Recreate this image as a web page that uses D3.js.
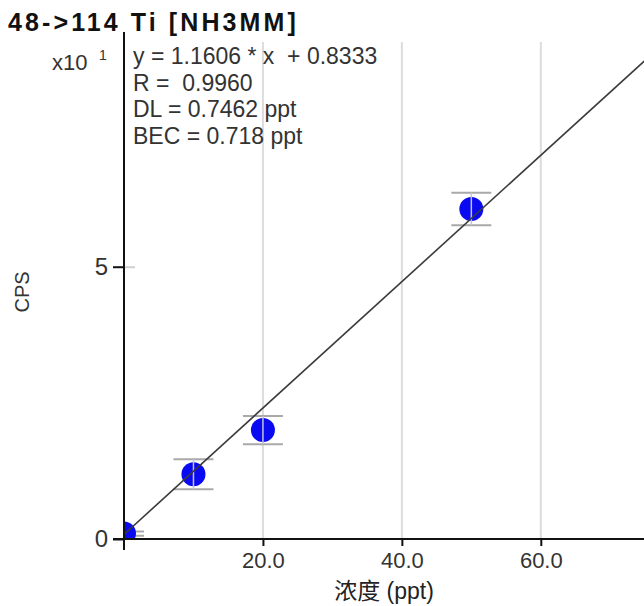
<!DOCTYPE html>
<html>
<head>
<meta charset="utf-8">
<script src="https://cdn.jsdelivr.net/npm/d3@7"></script>
<style>
  body { margin: 0; background: #fff; }
  text { font-family: "Liberation Sans", Arial, "Noto Sans CJK SC", sans-serif; white-space: pre; }
</style>
</head>
<body>
<div id="chart"></div>
<script>
// calibration data (CPS, axis shows x10^1)
const conc = [0, 10, 20, 50];
const cps = [1.0, 11.9, 20.0, 60.6];
const cpsErr = [0.4, 2.75, 2.6, 3.0];
const slope = 1.1606;
const intercept = 0.8333;

const xTicks = [20, 40, 60];
const xTickLabels = ['20.0', '40.0', '60.0'];
const yTicks = [0, 50];
const yTickLabels = ['0', '5'];

const title = '48->114 Ti [NH3MM]';
const infoLines = ['y = 1.1606 * x  + 0.8333', 'R =  0.9960', 'DL = 0.7462 ppt', 'BEC = 0.718 ppt'];

const W = 644, H = 606;
const plotL = 124, plotR = 644, plotT = 38, plotB = 539;

const svg = d3.select('#chart').append('svg')
    .attr('width', W)
    .attr('height', H);

const x = d3.scaleLinear().domain([0, 75]).range([plotL, 645]);
const y = d3.scaleLinear().domain([0, 92]).range([plotB, plotT]);

svg.append('defs').append('clipPath')
    .attr('id', 'plot-clip')
    .append('rect')
    .attr('x', plotL).attr('y', plotT)
    .attr('width', plotR - plotL).attr('height', plotB - plotT);

// vertical grid lines
svg.append('g')
    .selectAll('line')
    .data(xTicks)
    .enter().append('line')
    .attr('x1', d => x(d)).attr('x2', d => x(d))
    .attr('y1', 42).attr('y2', plotB)
    .attr('stroke', '#dcdcdc')
    .attr('stroke-width', 2);

const plot = svg.append('g').attr('clip-path', 'url(#plot-clip)');

// error bars caps
const bars = plot.selectAll('.err')
    .data(conc.map((c, i) => ({ c, v: cps[i], e: cpsErr[i] })))
    .enter().append('g')
    .attr('class', 'err');

bars.append('line')
    .attr('x1', d => x(d.c) - 20).attr('x2', d => x(d.c) + 20)
    .attr('y1', d => y(d.v + d.e)).attr('y2', d => y(d.v + d.e))
    .attr('stroke', '#a9a9a9').attr('stroke-width', 2);
bars.append('line')
    .attr('x1', d => x(d.c) - 20).attr('x2', d => x(d.c) + 20)
    .attr('y1', d => y(d.v - d.e)).attr('y2', d => y(d.v - d.e))
    .attr('stroke', '#a9a9a9').attr('stroke-width', 2);

// markers
bars.append('circle')
    .attr('cx', d => x(d.c))
    .attr('cy', d => y(d.v))
    .attr('r', 12)
    .attr('fill', '#0a0af2');

bars.append('line')
    .attr('x1', d => x(d.c)).attr('x2', d => x(d.c))
    .attr('y1', d => y(d.v + d.e)).attr('y2', d => y(d.v - d.e))
    .attr('stroke', '#c4c4d4').attr('stroke-width', 1.5);

// fit line
plot.append('line')
    .attr('x1', x(0)).attr('y1', y(intercept))
    .attr('x2', x(75)).attr('y2', y(slope * 75 + intercept))
    .attr('stroke', '#3a3a3a')
    .attr('stroke-width', 1.6);

// x axis
const xAxis = svg.append('g')
    .attr('transform', `translate(0,${plotB})`)
    .call(d3.axisBottom(x).tickValues(xTicks).tickSize(7).tickPadding(6)
        .tickFormat((d, i) => xTickLabels[i]));
xAxis.select('.domain').remove();
xAxis.selectAll('.tick line').attr('stroke', '#111').attr('stroke-width', 2);
xAxis.selectAll('text').attr('font-size', 22).attr('fill', '#333');

// y axis
const yAxis = svg.append('g')
    .attr('transform', `translate(${plotL},0)`)
    .call(d3.axisLeft(y).tickValues(yTicks).tickSize(11).tickPadding(5)
        .tickFormat((d, i) => yTickLabels[i]));
yAxis.select('.domain').remove();
yAxis.selectAll('.tick line').attr('stroke', '#111').attr('stroke-width', 2);
yAxis.selectAll('text').attr('font-size', 24).attr('fill', '#333');
yAxis.selectAll('.tick').filter(d => d !== 0).append('line')
    .attr('x1', 0).attr('x2', 11)
    .attr('stroke', '#d0d0d0').attr('stroke-width', 2);

// axis lines
svg.append('line')
    .attr('x1', 113).attr('x2', plotR)
    .attr('y1', plotB).attr('y2', plotB)
    .attr('stroke', '#111').attr('stroke-width', 2);
svg.append('line')
    .attr('x1', plotL).attr('x2', plotL)
    .attr('y1', 32).attr('y2', 550)
    .attr('stroke', '#111').attr('stroke-width', 2);

// labels
svg.append('text')
    .attr('x', 8).attr('y', 31)
    .attr('font-size', 25)
    .attr('font-weight', 'bold')
    .attr('letter-spacing', 3.1)
    .attr('fill', '#111')
    .text(title);

svg.append('text')
    .attr('x', 52).attr('y', 70)
    .attr('font-size', 22)
    .attr('fill', '#333')
    .text('x10');
svg.append('text')
    .attr('x', 99).attr('y', 60)
    .attr('font-size', 14)
    .attr('fill', '#333')
    .text('1');

svg.append('g')
    .selectAll('text')
    .data(infoLines)
    .enter().append('text')
    .attr('x', 133)
    .attr('y', (d, i) => 64 + i * 26.5)
    .attr('font-size', 23)
    .attr('fill', '#333')
    .text(d => d);

svg.append('text')
    .attr('transform', 'translate(29,292) rotate(-90)')
    .attr('text-anchor', 'middle')
    .attr('font-size', 20)
    .attr('fill', '#333')
    .text('CPS');

svg.append('text')
    .attr('x', 384).attr('y', 599)
    .attr('text-anchor', 'middle')
    .attr('font-size', 23)
    .attr('fill', '#222')
    .text('浓度 (ppt)');
</script>
</body>
</html>
